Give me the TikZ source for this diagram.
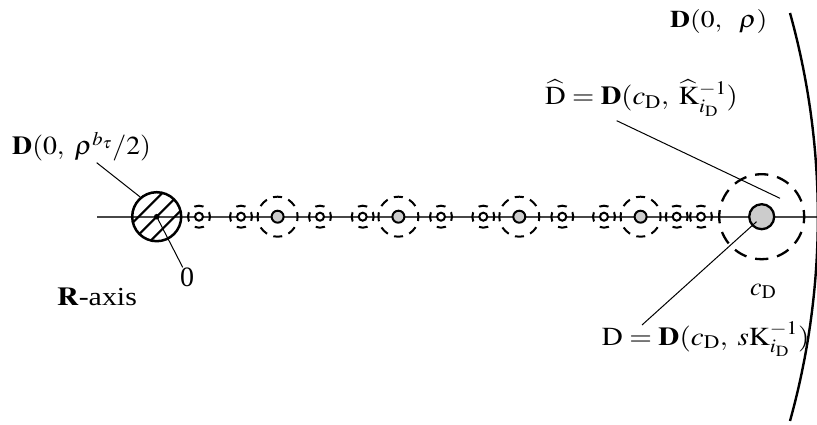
\documentclass[tikz,border=0pt]{standalone}
\usepackage{mathptmx}
\usepackage{fontspec}
\setmainfont{Liberation Serif}
\begin{document}
\begin{tikzpicture}[x=1pt,y=-1pt,
  axisline/.style={line width=2.3pt, draw=black!72},
  sdash/.style={circle, draw, inner sep=0, line width=2pt, minimum size=22pt,
    dash pattern=on 9.28pt off 8pt, dash phase=4.64pt},
  mdash/.style={circle, draw, inner sep=0, line width=2pt, minimum size=40pt,
    dash pattern=on 9pt off 6.71pt, dash phase=4.5pt},
  bdash/.style={circle, draw, inner sep=0, line width=2.3pt, minimum size=85pt,
    dash pattern=on 13.25pt off 9pt, dash phase=6.625pt},
  sdot/.style={circle, draw, fill=white, inner sep=0, line width=2pt, minimum size=8pt},
  mdot/.style={circle, draw, fill=black!20, inner sep=0, line width=2pt, minimum size=12pt},
  bdot/.style={circle, draw, fill=black!20, inner sep=0, line width=2.3pt, minimum size=25pt},
  leader/.style={line width=1pt},
  lab/.style={inner sep=0, anchor=base west, font=\fontsize{26}{30}\selectfont}
]
\useasboundingbox (0,0) rectangle (817,425);
% axis
\coordinate (ax0) at (97,216.7);
\coordinate (ax1) at (817,216.7);
\draw[axisline] (ax0) -- (ax1);
% outer arc D(0,rho)
\draw[line width=2.4pt] (790,13) arc[start angle=-15.55, end angle=15.55, radius=761];
% hatched disc
\begin{scope}
  \clip (156.7,216.7) circle[radius=24.5];
  \foreach \t in {-36,-18,0,18,36}
    \draw[line width=2pt] (156.7+\t-40,216.7+40) -- (156.7+\t+40,216.7-40);
\end{scope}
\node[circle, draw, inner sep=0, line width=2.5pt, minimum size=49pt] (hc) at (156.7,216.7) {};
\fill (hc.center) circle[radius=2.8];
% small dashed discs
\foreach \x [count=\i] in {199,241,320,362.7,441,483.3,562.3,604,676.7,701} {
  \node[sdash] (sd\i) at (\x,216.7) {};
  \node[sdot] (s\i) at (\x,216.7) {};
}
% medium dashed discs
\foreach \x [count=\i] in {277.6,398.4,519.3,640.6} {
  \node[mdash] (md\i) at (\x,216.7) {};
  \node[mdot] (m\i) at (\x,216.7) {};
}
% big disc
\node[bdash] (bd) at (761.7,216.7) {};
\node[bdot] (bc) at (761.7,216.7) {};
% labels
\node[lab] (l1) at (12,155) {\scalebox{1.07}[1]{$\mathbf{D}(0,\ \rho^{b_\tau}/2)$}};
\node[lab, font=\fontsize{28}{32}\selectfont] (l0) at (180,286.7) {0};
\node[lab] (lr) at (57,305) {\scalebox{1.15}[1]{$\mathbf{R}$-axis}};
\node[lab, font=\fontsize{24}{28}\selectfont] (lrho) at (670,28) {\scalebox{1.15}[1]{$\mathbf{D}(0,\ \ \rho)$}};
\node[lab] (lhat) at (545,105) {\scalebox{1.1}[1]{$\widehat{\mathrm{D}}=\mathbf{D}(c_{\mathrm{D}},\;\widehat{\mathrm{K}}^{-1}_{i_{\mathrm{D}}})$}};
\node[lab] (lc) at (750,295) {$c_{\mathrm{D}}$};
\node[lab] (ld) at (601.7,345) {\scalebox{1.12}[1]{$\mathrm{D}=\mathbf{D}(c_{\mathrm{D}},\;s\mathrm{K}^{-1}_{i_{\mathrm{D}}})$}};
% leader lines
\coordinate (p1) at (96.7,162.7);
\coordinate (p0) at (182.7,267.3);
\coordinate (phat) at (616.7,120.7);
\coordinate (qhat) at (780,198.3);
\coordinate (pd) at (642,325);
\coordinate (qd) at (756.5,221.7);
\draw[leader] (p1) -- (hc.130);
\draw[leader] (hc.center) -- (p0);
\draw[leader] (phat) -- (qhat);
\draw[leader] (qd) -- (pd);
\end{tikzpicture}
\end{document}
